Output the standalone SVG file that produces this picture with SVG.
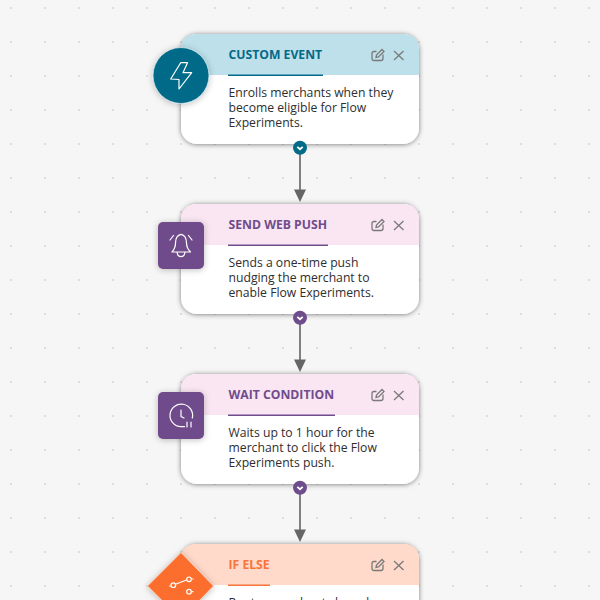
<svg xmlns="http://www.w3.org/2000/svg" width="600" height="600" viewBox="0 0 600 600">
<defs>
<pattern id="dots" width="34" height="34" patternUnits="userSpaceOnUse" x="-6" y="-9"><rect x="16" y="16" width="2" height="2" fill="#dedede"/></pattern>
<filter id="sh" x="-20%" y="-20%" width="140%" height="140%"><feDropShadow dx="0" dy="0.500" stdDeviation="2.500" flood-color="#000" flood-opacity="0.5"/></filter>
<filter id="sh2" x="-30%" y="-30%" width="160%" height="160%"><feDropShadow dx="0" dy="1" stdDeviation="3" flood-color="#000" flood-opacity="0.25"/></filter>
<g id="tools"><path d="M13 6.500V10.500Q13 12.500 11 12.500H4Q2 12.500 2 10.500V5.500Q2 3.500 4 3.500H6.500" class="ic"/><path d="M6 9.500L6.500 7L12 1.500L14 3.500L8.500 9Z" class="ic"/><path d="M24 3L33.500 12M33.500 3L24 12" class="ic"/></g>
<g id="chev"><path d="M-2.700 -1.200L0 1.200L2.700 -1.200" fill="none" stroke="#fff" stroke-width="1.800"/></g>
</defs>
<style>
text{font-family:"Open Sans","Noto Sans",sans-serif}
.t{font-size:12.200px;font-weight:700}
.b{font-size:12.200px;fill:#2e2e2e}
.ic{fill:none;stroke:#7a7a7a;stroke-width:1.300}
.w{fill:none;stroke:#fff;stroke-width:1.200;stroke-linecap:round;stroke-linejoin:round}
.card{fill:#fff;filter:url(#sh)}
.conn{stroke:#808080;stroke-width:2;fill:none}
</style>
<rect width="600" height="600" fill="#f6f6f6"/>
<rect width="600" height="600" fill="url(#dots)"/>
<g id="connectors">
<path class="conn" d="M300 148V192"/><path d="M294 189.500H306L300 202Z" fill="#666"/>
<path class="conn" d="M300 318V362"/><path d="M294 359.500H306L300 372Z" fill="#666"/>
<path class="conn" d="M300 488V532"/><path d="M294 529.500H306L300 542Z" fill="#666"/>
</g>
<g id="node-custom-event">
<rect class="card" x="181" y="34" width="238" height="110" rx="16"/>
<path d="M197 34H403Q419 34 419 50V75H181V50Q181 34 197 34Z" fill="#bde0ea"/>
<text class="t" x="228.500" y="59" fill="#036a88">CUSTOM EVENT</text>
<rect x="228" y="74.500" width="95" height="1.500" fill="#036a88"/>
<use href="#tools" x="370" y="48"/>
<text class="b" x="228.500" y="97">Enrolls merchants when they</text>
<text class="b" x="228.500" y="112">become eligible for Flow</text>
<text class="b" x="228.500" y="127">Experiments.</text>
<circle cx="181" cy="75.500" r="28" fill="#036a88" stroke="#cfe5ec" stroke-width="0.800" filter="url(#sh2)"/>
<path class="w" d="M180.700 62.700L170.700 79L179 79.500L179 89L191.700 72.700L183 72.700L187.500 62.700Z"/>
<circle cx="300" cy="147.700" r="7" fill="#036a88"/><use href="#chev" x="300" y="148"/>
</g>
<g id="node-send-web-push">
<rect class="card" x="181" y="204" width="238" height="110" rx="16"/>
<path d="M197 204H403Q419 204 419 220V245H181V220Q181 204 197 204Z" fill="#fae5f2"/>
<text class="t" x="228.500" y="229" fill="#6f4c8c">SEND WEB PUSH</text>
<rect x="228" y="244.500" width="100" height="1.500" fill="#6f4c8c"/>
<use href="#tools" x="370" y="218"/>
<text class="b" x="228.500" y="267">Sends a one-time push</text>
<text class="b" x="228.500" y="282">nudging the merchant to</text>
<text class="b" x="228.500" y="297">enable Flow Experiments.</text>
<rect x="158" y="222" width="46" height="47" rx="5" fill="#6f4c8c" filter="url(#sh2)"/>
<path class="w" d="M172 252H190.500Q186.500 248 186.500 243Q186.500 235.500 181 234.300Q175.500 235.500 175.500 243Q175.500 248 172 252ZM177 252Q177.500 256.700 181 256.700Q184.500 256.700 185 252M170 240L173.500 235.500M192 240L188.500 235.500"/>
<circle cx="300" cy="317.700" r="7" fill="#6f4c8c"/><use href="#chev" x="300" y="318"/>
</g>
<g id="node-wait-condition">
<rect class="card" x="181" y="374" width="238" height="110" rx="16"/>
<path d="M197 374H403Q419 374 419 390V415H181V390Q181 374 197 374Z" fill="#fae5f2"/>
<text class="t" x="228.500" y="399" fill="#6f4c8c">WAIT CONDITION</text>
<rect x="228" y="414.500" width="107" height="1.500" fill="#6f4c8c"/>
<use href="#tools" x="370" y="388"/>
<text class="b" x="228.500" y="437">Waits up to 1 hour for the</text>
<text class="b" x="228.500" y="452">merchant to click the Flow</text>
<text class="b" x="228.500" y="467">Experiments push.</text>
<rect x="158" y="392" width="46" height="47" rx="5" fill="#6f4c8c" filter="url(#sh2)"/>
<path class="w" d="M192.300 418A11.300 11.300 0 1 0 181 426.700H184.500M181 410V416.500L184 418M187 422V427M191 422V427"/>
<circle cx="300" cy="487.700" r="7" fill="#6f4c8c"/><use href="#chev" x="300" y="488"/>
</g>
<g id="node-if-else">
<rect class="card" x="181" y="544" width="238" height="110" rx="16"/>
<path d="M197 544H403Q419 544 419 560V585H181V560Q181 544 197 544Z" fill="#ffd9c9"/>
<text class="t" x="228.500" y="569" fill="#f9743a">IF ELSE</text>
<rect x="228" y="584.500" width="42" height="1.500" fill="#f9743a"/>
<use href="#tools" x="370" y="558"/>
<text class="b" x="228.500" y="607">Routes merchants based</text>
<path d="M181 552.500L213.500 586L181 619.500L147.500 586Z" fill="#fb6e2e" stroke="#ffd9c9" stroke-width="0.800" filter="url(#sh2)"/>
<path class="w" d="M175.500 584.300L186.500 580M171 586H169.500M191.500 579H193M191.500 591.700H193"/><circle class="w" cx="173.300" cy="585.200" r="2.300"/><circle class="w" cx="189" cy="579.300" r="2.300"/><circle class="w" cx="189" cy="591.700" r="2.300"/>
</g>
</svg>
